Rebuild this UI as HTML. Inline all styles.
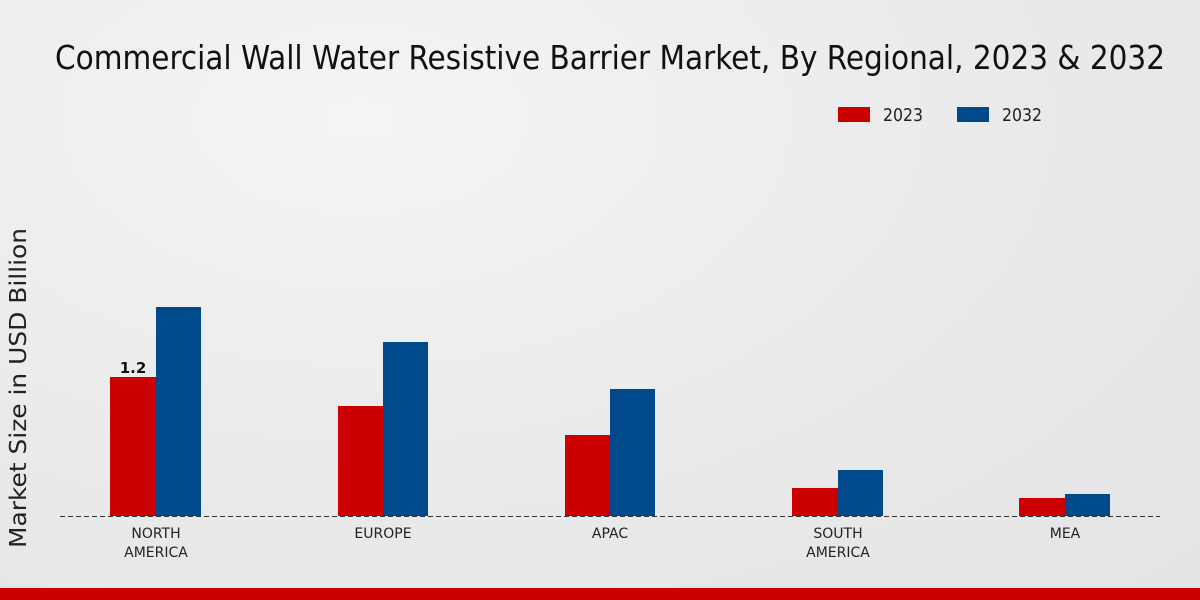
<!DOCTYPE html>
<html><head><meta charset="utf-8"><style>
html,body{margin:0;padding:0;width:1200px;height:600px;overflow:hidden}
body{background:radial-gradient(ellipse at 30% 20%,#f4f4f4 0%,#e9e9e9 60%,#e4e4e4 100%)}
svg text{font-family:"DejaVu Sans","Liberation Sans",sans-serif}
</style></head><body>
<svg width="1200" height="600" xmlns="http://www.w3.org/2000/svg">
<text x="610" y="69" font-size="33" text-anchor="middle" fill="#111" textLength="1110" lengthAdjust="spacingAndGlyphs" style="font-family:'DejaVu Sans Condensed','Liberation Sans Narrow','Liberation Sans',sans-serif">Commercial Wall Water Resistive Barrier Market, By Regional, 2023 &amp; 2032</text>
<rect x="838" y="107" width="32" height="15" fill="#cc0000"/>
<text x="883" y="121" font-size="18" fill="#222" textLength="40" lengthAdjust="spacingAndGlyphs">2023</text>
<rect x="957" y="107" width="32" height="15" fill="#004a8c"/>
<text x="1002" y="121" font-size="18" fill="#222" textLength="40" lengthAdjust="spacingAndGlyphs">2032</text>
<text transform="translate(26,388) rotate(-90)" font-size="23" text-anchor="middle" fill="#222" textLength="320" lengthAdjust="spacingAndGlyphs">Market Size in USD Billion</text>
<g>
<rect x="110" y="377" width="46" height="139" fill="#cc0000"/>
<rect x="156" y="307" width="45" height="209" fill="#004a8c"/>
<rect x="338" y="406" width="45" height="110" fill="#cc0000"/>
<rect x="383" y="342" width="45" height="174" fill="#004a8c"/>
<rect x="565" y="435" width="45" height="81" fill="#cc0000"/>
<rect x="610" y="389" width="45" height="127" fill="#004a8c"/>
<rect x="792" y="488" width="46" height="28" fill="#cc0000"/>
<rect x="838" y="470" width="45" height="46" fill="#004a8c"/>
<rect x="1019" y="498" width="46" height="18" fill="#cc0000"/>
<rect x="1065" y="494" width="45" height="22" fill="#004a8c"/>
</g>
<text x="133" y="373" font-size="15" font-weight="bold" text-anchor="middle" fill="#111">1.2</text>
<line x1="60" y1="516.5" x2="1160" y2="516.5" stroke="#333" stroke-width="1" stroke-dasharray="5,3"/>
<g font-size="14" text-anchor="middle" fill="#222" style="font-family:'DejaVu Sans Condensed','Liberation Sans',sans-serif">
<text x="156" y="538">NORTH</text><text x="156" y="557">AMERICA</text>
<text x="383" y="538">EUROPE</text>
<text x="610" y="538">APAC</text>
<text x="838" y="538">SOUTH</text><text x="838" y="557">AMERICA</text>
<text x="1065" y="538">MEA</text>
</g>
<rect x="0" y="588" width="1200" height="12" fill="#cc0000"/>
</svg>
</body></html>
